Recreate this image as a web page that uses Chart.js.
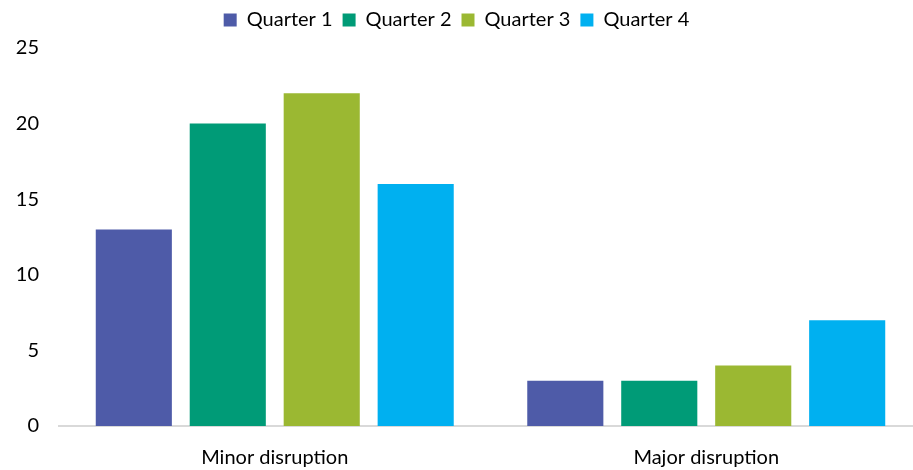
<!DOCTYPE html>
<html>
<head>
<meta charset="utf-8">
<script src="https://cdn.jsdelivr.net/npm/chart.js@4"></script>
<style>
  body { margin: 0; background: #fff; }
  #wrap { width: 913px; height: 470px; }
</style>
</head>
<body>
<div id="wrap"><canvas id="graph" width="913" height="470"></canvas></div>
<script>
// categories et valeurs
var categories = ["Minor disruption", "Major disruption"];
var quarter1 = [13, 3];
var quarter2 = [20, 3];
var quarter3 = [22, 4];
var quarter4 = [16, 7];
var seriesNames = ["Quarter 1", "Quarter 2", "Quarter 3", "Quarter 4"];
var yTicks = [0, 5, 10, 15, 20, 25];

var couleurs = ["#4E5BA8", "#009B77", "#9BB832", "#00B0F0"];
var valeurs = [quarter1, quarter2, quarter3, quarter4];

Chart.defaults.font.family = "Lato, 'Open Sans', sans-serif";
Chart.defaults.color = "#000";

// petit plugin pour laisser de l'espace sous la legende
const espaceLegende = {
  id: "espaceLegende",
  beforeInit(chart) {
    const fitOrig = chart.legend.fit;
    chart.legend.fit = function () {
      fitOrig.bind(chart.legend)();
      this.height += 8;
    };
  },
  // l'axe x deborde un peu a droite comme sur l'original
  afterLayout(chart) {
    const x = chart.scales.x;
    x.right += 9;
    x.width += 9;
    x.configure();
    chart.chartArea.right += 9;
    chart.chartArea.width += 9;
  },
};

const ctx = document.getElementById("graph");
const myChart = new Chart(ctx, {
  type: "bar",
  data: {
    labels: categories,
    datasets: seriesNames.map((nom, i) => ({
      label: nom,
      data: valeurs[i],
      backgroundColor: couleurs[i],
      barPercentage: 0.81,
      categoryPercentage: 0.871,
    })),
  },
  options: {
    responsive: false,
    animation: false,
    layout: { padding: { top: 0, right: 0, left: 0, bottom: 0 } },
    plugins: {
      tooltip: { enabled: false },
      legend: {
        position: "top",
        labels: {
          boxWidth: 13,
          boxHeight: 13,
          padding: 10,
          font: { size: 20 },
        },
      },
    },
    scales: {
      x: {
        grid: { display: false, drawTicks: false },
        border: { display: true, color: "#d9d9d9", width: 2 },
        ticks: { font: { size: 20 }, padding: 20 },
        afterFit: (s) => { s.height = 44; },
      },
      y: {
        min: 0,
        max: 25,
        grid: { display: false, drawTicks: false },
        border: { display: false },
        ticks: { stepSize: 5, font: { size: 20 }, padding: 20 },
        afterFit: (s) => { s.width = 59; },
      },
    },
  },
  plugins: [espaceLegende],
});
</script>
</body>
</html>
